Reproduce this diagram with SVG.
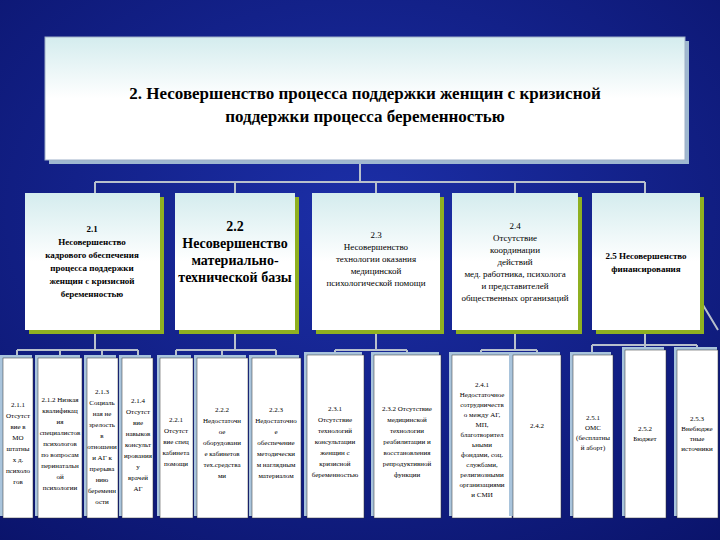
<svg xmlns="http://www.w3.org/2000/svg" width="720" height="540" viewBox="0 0 720 540">
<defs>
<radialGradient id="bg" cx="0.5" cy="0.4" r="0.8"><stop offset="0" stop-color="#1c2fa8"/><stop offset="1" stop-color="#0a136a"/></radialGradient>
<linearGradient id="card" x1="0" y1="0" x2="0" y2="1"><stop offset="0" stop-color="#d4ecee"/><stop offset="0.5" stop-color="#ffffff"/><stop offset="1" stop-color="#ffffff"/></linearGradient>
<style>
.top{fill:url(#card);stroke:#9fb0c8;stroke-width:1}
.l2{fill:url(#card)}
.sh2{fill:#8fb021}
.sh3{fill:#a9c4dc}
.l3{fill:#ffffff;stroke:#333;stroke-width:0.5}
.c{stroke:#b8c0cc;stroke-width:2;fill:none}
text{font-family:"Liberation Serif","DejaVu Serif",serif;fill:#000;text-anchor:middle}
.t{font-size:17px;font-weight:bold}
.m{font-size:9px}
.b{font-size:14px;font-weight:bold}
.s{font-size:7px}
</style>
</defs>
<rect width="720" height="540" fill="url(#bg)"/>
<g id="connectors" class="c">
<path d="M360 160V182M95 182H645M95 182V193M235 182V193M376 182V193M515 182V193M645 182V193"/>
<path d="M95 330V350M17 350H138M17 350V358M60 350V358M102 350V358M138 350V358"/>
<path d="M235 330V350M176 350H276M176 350V358M222 350V358M276 350V358"/>
<path d="M376 330V350M335 350H407M335 350V358M407 350V358"/>
<path d="M515 330V350M481 350H537M481 350V358M537 350V358"/>
<path d="M645 330V345M592 345H697M592 345V352M645 345V350M697 345V350M700 300L718 330"/>
</g>
<g id="n2"><rect x="49" y="41" width="640" height="123" fill="#9fb8d0"/><rect class="top" x="45" y="37" width="640" height="123"/>
<text class="t" x="365" y="99">2. Несовершенство процесса поддержки женщин с кризисной</text>
<text class="t" x="365" y="122">поддержки процесса беременностью</text></g>
<g id="n21"><rect class="sh2" x="29" y="197" width="135" height="137"/><rect class="l2" x="25" y="193" width="135" height="137"/>
<text class="m" font-weight="bold" x="92" y="232">2.1</text><text class="m" font-weight="bold" x="92" y="245">Несовершенство</text><text class="m" font-weight="bold" x="92" y="258">кадрового обеспечения</text><text class="m" font-weight="bold" x="92" y="271">процесса поддержки</text><text class="m" font-weight="bold" x="92" y="284">женщин с кризисной</text><text class="m" font-weight="bold" x="92" y="297">беременностью</text></g>
<g id="n22"><rect class="sh2" x="179" y="197" width="120" height="137"/><rect class="l2" x="175" y="193" width="120" height="137"/>
<text class="b" x="235" y="231">2.2</text><text class="b" x="235" y="248">Несовершенство</text><text class="b" x="235" y="265">материально-</text><text class="b" x="235" y="282">технической базы</text></g>
<g id="n23"><rect class="sh2" x="316" y="197" width="128" height="137"/><rect class="l2" x="312" y="193" width="128" height="137"/>
<text class="m" x="376" y="238">2.3</text><text class="m" x="376" y="250">Несовершенство</text><text class="m" x="376" y="262">технологии оказания</text><text class="m" x="376" y="274">медицинской</text><text class="m" x="376" y="286">психологической помощи</text></g>
<g id="n24"><rect class="sh2" x="456" y="197" width="126" height="137"/><rect class="l2" x="452" y="193" width="126" height="137"/>
<text class="m" x="515" y="229">2.4</text><text class="m" x="515" y="241">Отсутствие</text><text class="m" x="515" y="253">координации</text><text class="m" x="515" y="265">действий</text><text class="m" x="515" y="277">мед. работника, психолога</text><text class="m" x="515" y="289">и представителей</text><text class="m" x="515" y="301">общественных организаций</text></g>
<g id="n25"><rect class="sh2" x="596" y="197" width="108" height="137"/><rect class="l2" x="592" y="193" width="108" height="137"/>
<text class="m" font-weight="bold" font-size="11" x="646" y="259">2.5 Несовершенство</text><text class="m" font-weight="bold" font-size="11" x="646" y="272">финансирования</text></g>
<g id="l3" class="s">
<g id="n211"><rect class="sh3" x="0" y="355" width="32" height="161"/><rect class="l3" x="3" y="358" width="30" height="160"/><text class="s" x="18" y="407">2.1.1</text><text class="s" x="18" y="418">Отсутст</text><text class="s" x="18" y="429">вие в</text><text class="s" x="18" y="440">МО</text><text class="s" x="18" y="451">штатны</text><text class="s" x="18" y="462">х д.</text><text class="s" x="18" y="473">психоло</text><text class="s" x="18" y="484">гов</text></g>
<g id="n212"><rect class="sh3" x="35" y="355" width="45" height="161"/><rect class="l3" x="38" y="358" width="44" height="160"/><text class="s" x="60" y="402">2.1.2 Низкая</text><text class="s" x="60" y="413">квалификац</text><text class="s" x="60" y="424">ия</text><text class="s" x="60" y="435">специалистов</text><text class="s" x="60" y="446">психологов</text><text class="s" x="60" y="457">по вопросам</text><text class="s" x="60" y="468">перинатальн</text><text class="s" x="60" y="479">ой</text><text class="s" x="60" y="490">психологии</text></g>
<g id="n213"><rect class="sh3" x="84" y="355" width="32" height="161"/><rect class="l3" x="87" y="358" width="31" height="160"/><text class="s" x="102" y="394">2.1.3</text><text class="s" x="102" y="405">Социаль</text><text class="s" x="102" y="416">ная не</text><text class="s" x="102" y="427">зрелость</text><text class="s" x="102" y="438">в</text><text class="s" x="102" y="449">отношени</text><text class="s" x="102" y="460">и АГ к</text><text class="s" x="102" y="471">прерыва</text><text class="s" x="102" y="482">нию</text><text class="s" x="102" y="493">беременн</text><text class="s" x="102" y="504">ости</text></g>
<g id="n214"><rect class="sh3" x="119" y="355" width="32" height="161"/><rect class="l3" x="122" y="358" width="31" height="160"/><text class="s" x="138" y="403">2.1.4</text><text class="s" x="138" y="414">Отсутст</text><text class="s" x="138" y="425">вие</text><text class="s" x="138" y="436">навыков</text><text class="s" x="138" y="447">консульт</text><text class="s" x="138" y="458">ирования</text><text class="s" x="138" y="469">у</text><text class="s" x="138" y="480">врачей</text><text class="s" x="138" y="491">АГ</text></g>
<g id="n221"><rect class="sh3" x="157" y="355" width="34" height="161"/><rect class="l3" x="160" y="358" width="33" height="160"/><text class="s" x="176" y="422">2.2.1</text><text class="s" x="176" y="433">Отсутст</text><text class="s" x="176" y="444">вие спец</text><text class="s" x="176" y="455">кабинета</text><text class="s" x="176" y="466">помощи</text></g>
<g id="n222"><rect class="sh3" x="194" y="355" width="52" height="161"/><rect class="l3" x="197" y="358" width="51" height="160"/><text class="s" x="222" y="412">2.2.2</text><text class="s" x="222" y="423">Недостаточн</text><text class="s" x="222" y="434">ое</text><text class="s" x="222" y="445">оборудовани</text><text class="s" x="222" y="456">е кабинетов</text><text class="s" x="222" y="467">тех.средства</text><text class="s" x="222" y="478">ми</text></g>
<g id="n223"><rect class="sh3" x="249" y="355" width="50" height="161"/><rect class="l3" x="252" y="358" width="49" height="160"/><text class="s" x="276" y="412">2.2.3</text><text class="s" x="276" y="423">Недостаточно</text><text class="s" x="276" y="434">е</text><text class="s" x="276" y="445">обеспечение</text><text class="s" x="276" y="456">методически</text><text class="s" x="276" y="467">м наглядным</text><text class="s" x="276" y="478">материалом</text></g>
<g id="n231"><rect class="sh3" x="304" y="352" width="58" height="164"/><rect class="l3" x="307" y="355" width="57" height="163"/><text class="s" x="335" y="411">2.3.1</text><text class="s" x="335" y="422">Отсутствие</text><text class="s" x="335" y="433">технологий</text><text class="s" x="335" y="444">консультации</text><text class="s" x="335" y="455">женщин с</text><text class="s" x="335" y="466">кризисной</text><text class="s" x="335" y="477">беременностью</text></g>
<g id="n232"><rect class="sh3" x="371" y="352" width="68" height="164"/><rect class="l3" x="374" y="355" width="67" height="163"/><text class="s" x="407" y="411">2.3.2 Отсутствие</text><text class="s" x="407" y="422">медицинской</text><text class="s" x="407" y="433">технологии</text><text class="s" x="407" y="444">реабилитации и</text><text class="s" x="407" y="455">восстановления</text><text class="s" x="407" y="466">репродуктивной</text><text class="s" x="407" y="477">функции</text></g>
<g id="n241"><rect class="sh3" x="449" y="352" width="61" height="164"/><rect class="l3" x="452" y="355" width="60" height="163"/><text class="s" x="482" y="387">2.4.1</text><text class="s" x="482" y="397">Недостаточное</text><text class="s" x="482" y="407">сотрудничеств</text><text class="s" x="482" y="417">о между АГ,</text><text class="s" x="482" y="427">МП,</text><text class="s" x="482" y="437">благотворител</text><text class="s" x="482" y="447">ьными</text><text class="s" x="482" y="457">фондами, соц.</text><text class="s" x="482" y="467">службами,</text><text class="s" x="482" y="477">религиозными</text><text class="s" x="482" y="487">организациями</text><text class="s" x="482" y="497">и СМИ</text></g>
<g id="n242"><rect class="sh3" x="509" y="352" width="51" height="164"/><rect class="l3" x="513" y="355" width="48" height="163"/><text class="s" x="537" y="428">2.4.2</text></g>
<g id="n251"><rect class="sh3" x="570" y="352" width="41" height="164"/><rect class="l3" x="573" y="355" width="40" height="163"/><text class="s" x="593" y="420">2.5.1</text><text class="s" x="593" y="430">ОМС</text><text class="s" x="593" y="440">(бесплатны</text><text class="s" x="593" y="450">й аборт)</text></g>
<g id="n252"><rect class="sh3" x="622" y="347" width="42" height="169"/><rect class="l3" x="625" y="350" width="41" height="168"/><text class="s" x="645" y="431">2.5.2</text><text class="s" x="645" y="441">Бюджет</text></g>
<g id="n253"><rect class="sh3" x="674" y="347" width="43" height="169"/><rect class="l3" x="677" y="350" width="41" height="168"/><text class="s" x="697" y="421">2.5.3</text><text class="s" x="697" y="431">Внебюдже</text><text class="s" x="697" y="441">тные</text><text class="s" x="697" y="451">источники</text></g>
</g>
</svg>
